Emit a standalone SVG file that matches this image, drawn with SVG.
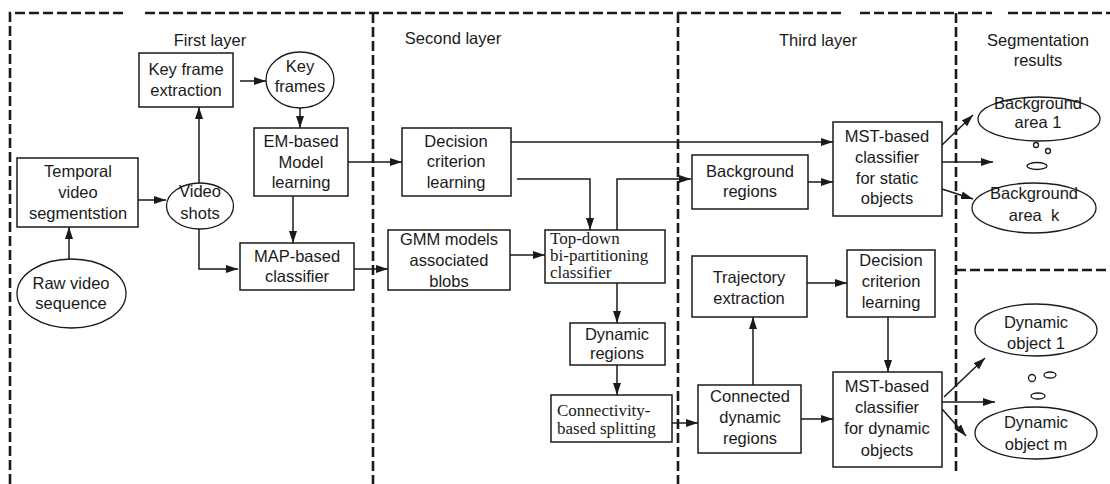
<svg xmlns="http://www.w3.org/2000/svg" width="1110" height="484" viewBox="0 0 1110 484">
<defs>
<marker id="ah" markerWidth="13" markerHeight="10" refX="12" refY="5" orient="auto" markerUnits="userSpaceOnUse">
<path d="M0,1 L12,5 L0,9 Z" fill="#1a1a1a"/>
</marker>
<style>
.frame{fill:none;stroke:#1a1a1a;stroke-width:2.6;stroke-dasharray:10 4}
.box{fill:#fff;stroke:#1a1a1a;stroke-width:1.5}
.ell{fill:#fff;stroke:#1a1a1a;stroke-width:1.3}
.c{fill:none;stroke:#1a1a1a;stroke-width:1.5}
.a{fill:none;stroke:#1a1a1a;stroke-width:1.5;marker-end:url(#ah)}
text{font-family:"Liberation Sans",Arial,sans-serif;font-size:16.5px;fill:#1a1a1a}
.m{text-anchor:middle}
.s{font-family:"Liberation Serif","Times New Roman",serif;font-size:17px}
</style>
</defs>
<rect width="1110" height="484" fill="#fff"/>
<g id="frames">
<path class="frame" d="M10,484 L10,13 L127,13"/>
<path class="frame" d="M145,13 L843,13"/>
<path class="frame" d="M860,13 L992,13"/>
<path class="frame" d="M1008,13 L1110,13"/>
<path class="frame" d="M373,13 L373,484"/>
<path class="frame" d="M678,13 L678,484"/>
<path class="frame" d="M956,13 L956,473"/>
<path class="frame" d="M956,270 L1110,270"/>
</g>
<g id="labels">
<text class="m" x="210" y="46">First layer</text>
<text class="m" x="453" y="44">Second layer</text>
<text class="m" x="818" y="46">Third layer</text>
<text class="m" x="1038" y="46">Segmentation</text>
<text class="m" x="1038" y="66">results</text>
</g>
<g id="connectors">
<path class="a" d="M240,81 L266,81"/>
<path class="a" d="M300,108 L300,128"/>
<path class="a" d="M199,183 L199,107"/>
<path class="a" d="M138,200 L166,200"/>
<path class="a" d="M69,259 L69,227"/>
<path class="a" d="M199,229 L199,269 L238,269"/>
<path class="a" d="M293,196 L293,243"/>
<path class="a" d="M348,162 L402,162"/>
<path class="a" d="M354,269 L388,269"/>
<path class="a" d="M511,142 L833,142"/>
<path class="a" d="M517,179 L590,179 L590,230"/>
<path class="a" d="M617,230 L617,179 L691,179"/>
<path class="a" d="M510,255 L545,255"/>
<path class="a" d="M617,283 L617,323"/>
<path class="a" d="M617,365 L617,395"/>
<path class="a" d="M672,423 L698,423"/>
<path class="a" d="M808,182 L833,182"/>
<path class="a" d="M753,385 L753,317"/>
<path class="a" d="M807,283 L847,283"/>
<path class="a" d="M888,317 L888,372"/>
<path class="a" d="M801,419 L833,419"/>
<path class="a" d="M942,145 L973,115"/>
<path class="a" d="M942,162 L993,162"/>
<path class="a" d="M942,189 L973,199"/>
<path class="a" d="M944,397 L985,358"/>
<path class="a" d="M942,402 L995,402"/>
<path class="a" d="M942,409 L966,436"/>
</g>
<g id="key-frame-extraction">
<rect class="box" x="139" y="53" width="94" height="54"/>
<text class="m" x="186" y="75">Key frame</text>
<text class="m" x="186" y="96">extraction</text>
</g>
<g id="key-frames">
<ellipse class="ell" cx="300" cy="80" rx="34" ry="28"/>
<text class="m" x="300" y="72">Key</text>
<text class="m" x="300" y="92">frames</text>
</g>
<g id="em-based">
<rect class="box" x="254" y="128" width="94" height="68"/>
<text class="m" x="301" y="147">EM-based</text>
<text class="m" x="301" y="168">Model</text>
<text class="m" x="301" y="188">learning</text>
</g>
<g id="temporal">
<rect class="box" x="17" y="158" width="121" height="69"/>
<text class="m" x="78" y="177">Temporal</text>
<text class="m" x="78" y="198">video</text>
<text class="m" x="78" y="219">segmentstion</text>
</g>
<g id="video-shots">
<ellipse class="ell" cx="200" cy="206" rx="33.5" ry="23"/>
<text class="m" x="200" y="197">Video</text>
<text class="m" x="200" y="219">shots</text>
</g>
<g id="raw-video">
<ellipse class="ell" cx="71.5" cy="293.5" rx="54.5" ry="34.5"/>
<text class="m" x="71" y="289">Raw video</text>
<text class="m" x="71" y="309">sequence</text>
</g>
<g id="map-based">
<rect class="box" x="240" y="243" width="114" height="47"/>
<text class="m" x="297" y="262">MAP-based</text>
<text class="m" x="297" y="282">classifier</text>
</g>
<g id="decision-1">
<rect class="box" x="402" y="128" width="109" height="68"/>
<text class="m" x="456" y="147">Decision</text>
<text class="m" x="456" y="167">criterion</text>
<text class="m" x="456" y="188">learning</text>
</g>
<g id="gmm">
<rect class="box" x="388" y="230" width="122" height="60"/>
<text class="m" x="449" y="245">GMM models</text>
<text class="m" x="449" y="266">associated</text>
<text class="m" x="449" y="287">blobs</text>
</g>
<g id="top-down">
<rect class="box" x="545" y="230" width="120" height="53"/>
<text class="s" x="550" y="244">Top-down</text>
<text class="s" x="550" y="261">bi-partitioning</text>
<text class="s" x="550" y="278">classifier</text>
</g>
<g id="dynamic-regions">
<rect class="box" x="570" y="323" width="95" height="42"/>
<text class="m" x="617" y="340">Dynamic</text>
<text class="m" x="617" y="359">regions</text>
</g>
<g id="connectivity">
<rect class="box" x="551" y="395" width="121" height="47"/>
<text class="s" x="557" y="416">Connectivity-</text>
<text class="s" x="557" y="434">based splitting</text>
</g>
<g id="background-regions">
<rect class="box" x="692" y="155" width="116" height="54"/>
<text class="m" x="750" y="177">Background</text>
<text class="m" x="750" y="197">regions</text>
</g>
<g id="mst-static">
<rect class="box" x="833" y="122" width="109" height="94"/>
<text class="m" x="887" y="142">MST-based</text>
<text class="m" x="887" y="163">classifier</text>
<text class="m" x="887" y="184">for static</text>
<text class="m" x="887" y="204">objects</text>
</g>
<g id="trajectory">
<rect class="box" x="692" y="256" width="115" height="61"/>
<text class="m" x="749" y="283">Trajectory</text>
<text class="m" x="749" y="304">extraction</text>
</g>
<g id="decision-2">
<rect class="box" x="847" y="250" width="88" height="67"/>
<text class="m" x="891" y="266">Decision</text>
<text class="m" x="891" y="287">criterion</text>
<text class="m" x="891" y="308">learning</text>
</g>
<g id="connected">
<rect class="box" x="698" y="385" width="103" height="68"/>
<text class="m" x="750" y="402">Connected</text>
<text class="m" x="750" y="423">dynamic</text>
<text class="m" x="750" y="444">regions</text>
</g>
<g id="mst-dynamic">
<rect class="box" x="833" y="372" width="109" height="95"/>
<text class="m" x="887" y="392">MST-based</text>
<text class="m" x="887" y="413">classifier</text>
<text class="m" x="887" y="434">for dynamic</text>
<text class="m" x="887" y="456">objects</text>
</g>
<g id="background-area-1">
<ellipse class="ell" cx="1039" cy="119" rx="61" ry="22"/>
<text class="m" x="1038" y="109">Background</text>
<text class="m" x="1038" y="128">area 1</text>
</g>
<g id="bg-dots">
<circle class="ell" cx="1036" cy="145" r="2.5"/>
<circle class="ell" cx="1048" cy="151" r="2.5"/>
<ellipse class="ell" cx="1037" cy="166" rx="10" ry="3.5"/>
</g>
<g id="background-area-k">
<ellipse class="ell" cx="1034" cy="208" rx="62" ry="25"/>
<text class="m" x="1034" y="199">Background</text>
<text class="m" x="1034" y="221" xml:space="preserve">area  k</text>
</g>
<g id="dynamic-object-1">
<ellipse class="ell" cx="1036" cy="330" rx="61" ry="26"/>
<text class="m" x="1036" y="328">Dynamic</text>
<text class="m" x="1036" y="349">object 1</text>
</g>
<g id="dyn-dots">
<circle class="ell" cx="1032" cy="378" r="3.5"/>
<ellipse class="ell" cx="1050" cy="375" rx="6" ry="3"/>
<ellipse class="ell" cx="1038" cy="396" rx="7" ry="3"/>
</g>
<g id="dynamic-object-m">
<ellipse class="ell" cx="1036" cy="433" rx="61" ry="26"/>
<text class="m" x="1036" y="428">Dynamic</text>
<text class="m" x="1036" y="450">object m</text>
</g>
</svg>
